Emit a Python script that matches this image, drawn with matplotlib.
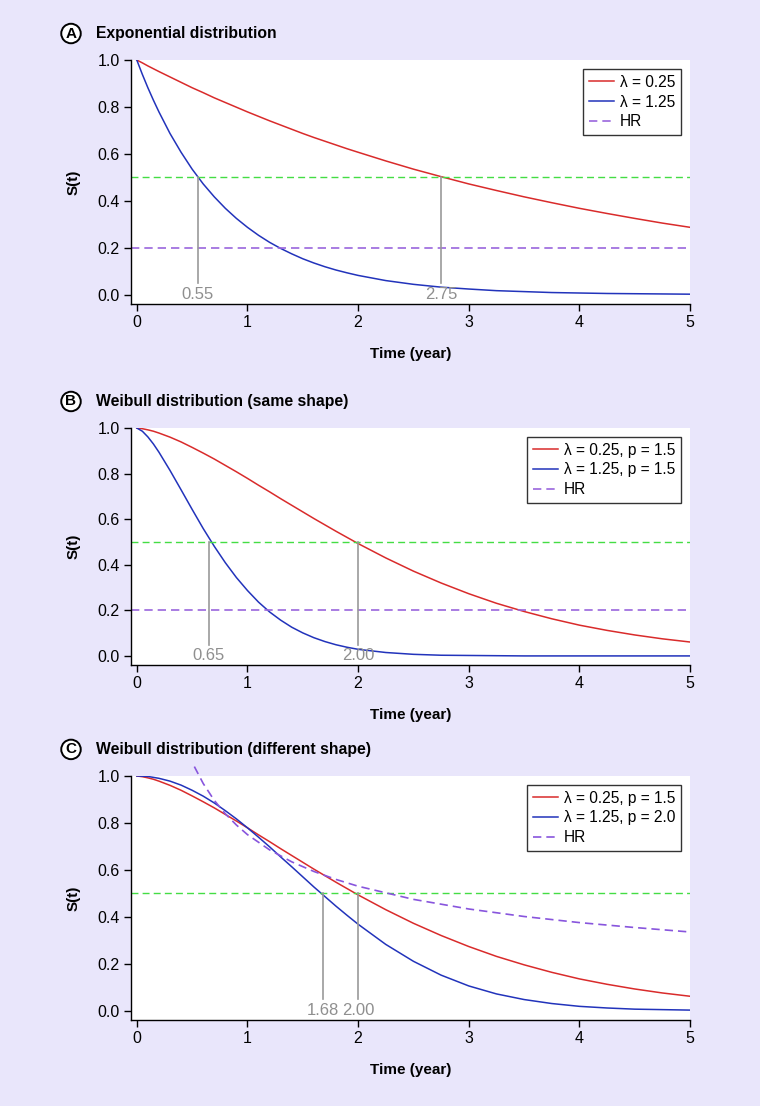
import matplotlib
matplotlib.use("Agg")
import matplotlib.pyplot as plt

plt.rcParams['font.family'] = ['Liberation Sans', 'DejaVu Sans']

# time grid (years)
t = [0, 0.05, 0.1, 0.15, 0.2, 0.3, 0.4, 0.5, 0.6, 0.7, 0.8, 0.9, 1.0, 1.1, 1.2, 1.3,
     1.4, 1.5, 1.6, 1.7, 1.8, 1.9, 2.0, 2.25, 2.5, 2.75, 3.0, 3.25, 3.5, 3.75, 4.0,
     4.25, 4.5, 4.75, 5.0]

# panel A - exponential
expo_low = [1.000, 0.988, 0.975, 0.963, 0.951, 0.928, 0.905, 0.882, 0.861, 0.839,
            0.819, 0.799, 0.779, 0.760, 0.741, 0.723, 0.705, 0.687, 0.670, 0.654,
            0.638, 0.622, 0.607, 0.570, 0.535, 0.503, 0.472, 0.444, 0.417, 0.392,
            0.368, 0.346, 0.325, 0.305, 0.287]
expo_high = [1.000, 0.939, 0.882, 0.829, 0.779, 0.687, 0.607, 0.535, 0.472, 0.417,
             0.368, 0.325, 0.287, 0.253, 0.223, 0.197, 0.174, 0.153, 0.135, 0.119,
             0.105, 0.093, 0.082, 0.060, 0.044, 0.032, 0.024, 0.017, 0.013, 0.009,
             0.007, 0.005, 0.004, 0.003, 0.002]

# panel B - weibull same shape
weib_low = [1.000, 0.997, 0.992, 0.986, 0.978, 0.960, 0.939, 0.915, 0.890, 0.864,
            0.836, 0.808, 0.779, 0.749, 0.720, 0.690, 0.661, 0.632, 0.603, 0.575,
            0.547, 0.520, 0.493, 0.430, 0.372, 0.320, 0.273, 0.231, 0.195, 0.163,
            0.135, 0.112, 0.092, 0.075, 0.061]
weib_high = [1.000, 0.986, 0.961, 0.930, 0.894, 0.814, 0.729, 0.643, 0.559, 0.481,
             0.409, 0.344, 0.287, 0.236, 0.193, 0.157, 0.126, 0.101, 0.080, 0.063,
             0.049, 0.038, 0.029, 0.015, 0.007, 0.003, 0.002, 0.001, 0.000, 0.000,
             0.000, 0.000, 0.000, 0.000, 0.000]

# panel C - weibull different shape
weib2_high = [1.000, 0.999, 0.998, 0.994, 0.990, 0.978, 0.961, 0.939, 0.914, 0.885,
              0.852, 0.817, 0.779, 0.739, 0.698, 0.655, 0.613, 0.570, 0.527, 0.486,
              0.445, 0.406, 0.368, 0.282, 0.210, 0.151, 0.105, 0.071, 0.047, 0.030,
              0.018, 0.011, 0.006, 0.004, 0.002]
t_hr = [0.52, 0.6, 0.7, 0.8, 0.9, 1.0, 1.2, 1.4, 1.6, 1.8, 2.0, 2.5, 3.0, 3.5, 4.0, 4.5, 5.0]
hr_c = [1.040, 0.968, 0.896, 0.839, 0.791, 0.750, 0.685, 0.634, 0.593, 0.559, 0.530,
        0.474, 0.433, 0.401, 0.375, 0.354, 0.335]

medians_a = [0.55, 2.75]
medians_b = [0.65, 2.00]
medians_c = [1.68, 2.00]
hr_const = 0.2

RED = '#d92b2b'
BLUE = '#2233bb'
PURPLE = '#9966dd'
GREEN = '#44dd44'
GRAY = '#999999'
BG = '#e9e6fb'

fig = plt.figure(figsize=(7.6, 11.06), dpi=100, facecolor=BG)

# left, bottom, width, height
positions = [[0.172, 0.7251, 0.736, 0.2206],
             [0.172, 0.3987, 0.736, 0.2143],
             [0.172, 0.0778, 0.736, 0.2206]]
titles = ['Exponential distribution', 'Weibull distribution (same shape)',
          'Weibull distribution (different shape)']
letters = ['A', 'B', 'C']
labels = [['λ = 0.25', 'λ = 1.25'],
          ['λ = 0.25, p = 1.5', 'λ = 1.25, p = 1.5'],
          ['λ = 0.25, p = 1.5', 'λ = 1.25, p = 2.0']]
curves = [(expo_low, expo_high), (weib_low, weib_high), (weib_low, weib2_high)]
meds = [medians_a, medians_b, medians_c]

for i in range(3):
    ax = fig.add_axes(positions[i])
    ax.set_facecolor('white')
    lo, hi = curves[i]
    ax.plot(t, lo, color=RED, lw=1.1, label=labels[i][0])
    ax.plot(t, hi, color=BLUE, lw=1.1, label=labels[i][1])
    ax.axhline(0.5, color=GREEN, lw=1.0, ls=(0, (5, 3)))
    if i < 2:
        ax.axhline(hr_const, color=PURPLE, lw=1.2, ls=(0, (5, 3)), label='HR')
    else:
        ax.plot(t_hr, hr_c, color='#8855dd', lw=1.2, ls=(0, (5, 3)), label='HR',
                clip_on=False)
    for m in meds[i]:
        ax.plot([m, m], [0.05, 0.5], color=GRAY, lw=1.2)
        ax.text(m, 0.0, '%.2f' % m, color='#8f8f8f', fontsize=12,
                ha='center', va='center')

    ax.set_xlim(-0.055, 5)
    ax.set_ylim(-0.04, 1.0)
    ax.set_xticks([0, 1, 2, 3, 4, 5])
    ax.set_yticks([0.0, 0.2, 0.4, 0.6, 0.8, 1.0])
    ax.set_yticklabels(['0.0', '0.2', '0.4', '0.6', '0.8', '1.0'])
    ax.tick_params(direction='out', length=5, width=1, labelsize=11.5, pad=3)
    for s in ['top', 'right']:
        ax.spines[s].set_visible(False)
    ax.spines['left'].set_linewidth(1)
    ax.spines['bottom'].set_linewidth(1)
    ax.set_ylabel('S(t)', fontsize=11, fontweight='bold', labelpad=12)
    ax.set_xlabel('Time (year)', fontsize=11, fontweight='bold', labelpad=12)

    leg = ax.legend(loc='upper right', fontsize=11.2, frameon=True, fancybox=False,
                    edgecolor='black', handlelength=1.6, handletextpad=0.4,
                    borderpad=0.35, labelspacing=0.3, borderaxespad=0.6)
    leg.get_frame().set_linewidth(1.0)

    top = positions[i][1] + positions[i][3]
    fig.text(96 / 760, top + 0.024, titles[i], fontsize=11.3, fontweight='bold',
             va='center', ha='left')
    fig.text(71 / 760, top + 0.024, letters[i], fontsize=11, fontweight='bold',
             va='center', ha='center',
             bbox=dict(boxstyle='circle,pad=0.18', fc='white', ec='black', lw=1.4))

fig.savefig('out.png', dpi=100, facecolor=BG)
